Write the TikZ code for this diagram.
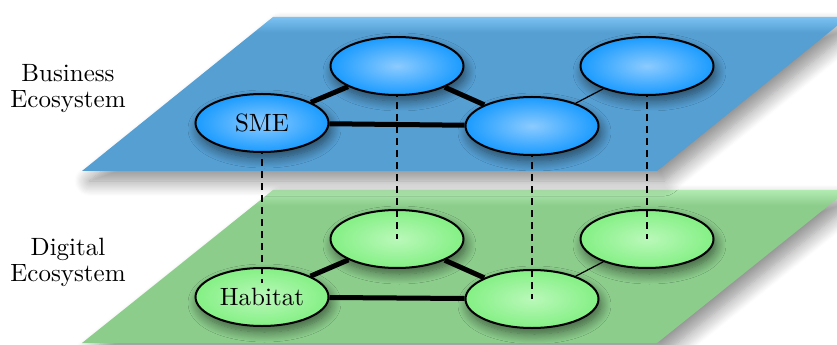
\documentclass[tikz,border=0pt]{standalone}
\usetikzlibrary{shapes.geometric,shadows.blur}

\definecolor{bizplane}{HTML}{559FD3}
\definecolor{bizplanetop}{HTML}{7CC2F2}
\definecolor{bizin}{HTML}{8CCBFF}
\definecolor{bizout}{HTML}{1A9BFF}
\definecolor{digplane}{HTML}{8CCD8C}
\definecolor{digplanetop}{HTML}{B2EBB2}
\definecolor{digin}{HTML}{BAF8BA}
\definecolor{digout}{HTML}{84F084}

\pgfdeclareverticalshading{bizshade}{100bp}{color(0bp)=(bizplane); color(70bp)=(bizplane); color(75bp)=(bizplanetop); color(100bp)=(bizplanetop)}
\pgfdeclareverticalshading{digshade}{100bp}{color(0bp)=(digplane); color(70bp)=(digplane); color(75bp)=(digplanetop); color(100bp)=(digplanetop)}

\begin{document}
\begin{tikzpicture}
[x=0.4pt,y=-0.4pt,
 plane/.style={blur shadow={shadow xshift=3pt,shadow yshift=-4pt,shadow blur radius=6pt,shadow blur steps=14,shadow opacity=45}},
 actor/.style={ellipse,draw=black,thick,minimum width=53.2pt,minimum height=23.2pt,inner sep=0pt,
   shading=radial,blur shadow={shadow xshift=1pt,shadow yshift=-2.4pt,shadow blur radius=4pt,shadow blur steps=12,shadow opacity=55}},
 biz/.style={actor,inner color=bizin,outer color=bizout},
 dig/.style={actor,inner color=digin,outer color=digout},
 layer/.style={align=center,font=\fontsize{10pt}{10.4pt}\selectfont},
 strong/.style={line width=2pt},
 weak/.style={line width=0.5pt},
 link/.style={line width=0.6pt,dash pattern=on 2.8pt off 2pt}]
\useasboundingbox (0,0) rectangle (837,345);

% digital ecosystem
\path[plane,shading=digshade] (82,343) -- (657,343) -- (848,190) -- (273,190) -- cycle;
\node[dig] (hab) at (262,297) {Habitat};
\node[dig] (d2)  at (397,239) {};
\node[dig] (d3)  at (532,299) {};
\node[dig] (d4)  at (647,239) {};
\path[strong] (hab) edge (d2);
\path[strong] (hab) edge (d3);
\path[strong] (d2)  edge (d3);
\path[weak]   (d3)  edge (d4);
\node[layer] (diglabel) at (68,262) {Digital\\Ecosystem};

% business ecosystem
\path[plane,shading=bizshade] (82,171) -- (657,171) -- (848,17) -- (273,17) -- cycle;
\coordinate (smepos) at (262,123);
\coordinate (b2pos)  at (397,66);
\coordinate (b3pos)  at (532,126);
\coordinate (b4pos)  at (647,66);
\draw[link] (smepos) -- ([yshift=5.6pt]hab.center);
\draw[link] (b2pos)  -- (d2.center);
\draw[link] (b3pos)  -- (d3.center);
\draw[link] (b4pos)  -- (d4.center);
\node[biz] (sme) at (smepos) {SME};
\node[biz] (b2)  at (b2pos)  {};
\node[biz] (b3)  at (b3pos)  {};
\node[biz] (b4)  at (b4pos)  {};
\path[strong] (sme) edge (b2);
\path[strong] (sme) edge (b3);
\path[strong] (b2)  edge (b3);
\path[weak]   (b3)  edge (b4);
\node[layer] (bizlabel) at (68,89) {Business\\Ecosystem};
\end{tikzpicture}
\end{document}
